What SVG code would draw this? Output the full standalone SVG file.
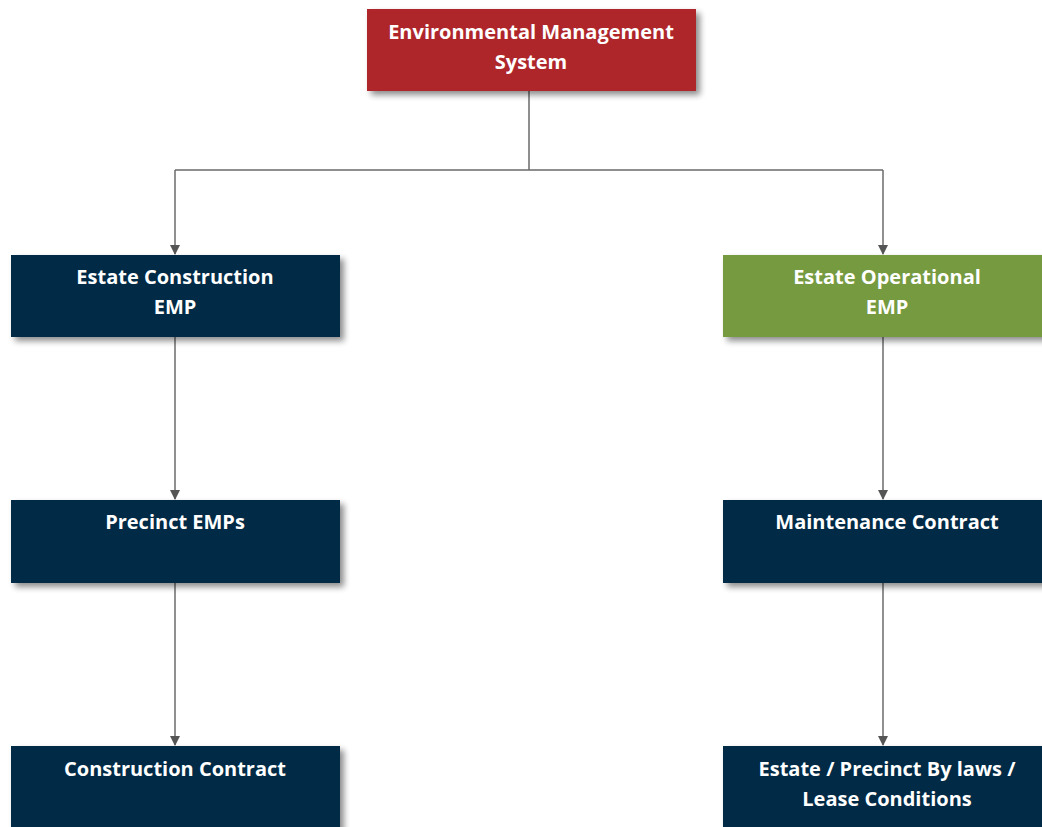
<svg xmlns="http://www.w3.org/2000/svg" width="1042" height="827" viewBox="0 0 1042 827">
<defs>
<filter id="sh" x="-10%" y="-10%" width="130%" height="140%">
<feGaussianBlur in="SourceAlpha" stdDeviation="3"/>
<feOffset dx="4" dy="4" result="b"/>
<feComponentTransfer><feFuncA type="linear" slope="0.45"/></feComponentTransfer>
<feMerge><feMergeNode/><feMergeNode in="SourceGraphic"/></feMerge>
</filter>
<marker id="ah" markerWidth="10" markerHeight="10" refX="9" refY="5" orient="auto" markerUnits="userSpaceOnUse">
<path d="M0,0 L10,5 L0,10 z" fill="#555"/>
</marker>
</defs>
<style>
.red{fill:#AE2529}
.navy{fill:#052A45}
.green{fill:#769A40}
.t{font-family:"Open Sans","Noto Sans",sans-serif;font-weight:bold;font-size:20px;fill:#fff;text-anchor:middle}
.c{stroke:#6b6b6b;stroke-width:1.5;fill:none}
</style>
<rect width="1042" height="827" fill="#fff"/>
<g id="connectors">
<path class="c" d="M529,91 V170 M175,170 H883"/>
<path class="c" d="M175,170 V254" marker-end="url(#ah)"/>
<path class="c" d="M883,170 V254" marker-end="url(#ah)"/>
<path class="c" d="M175,337 V499" marker-end="url(#ah)"/>
<path class="c" d="M883,337 V499" marker-end="url(#ah)"/>
<path class="c" d="M175,583 V745" marker-end="url(#ah)"/>
<path class="c" d="M883,583 V745" marker-end="url(#ah)"/>
</g>
<g id="ems">
<rect class="red" x="367" y="9" width="329" height="82" filter="url(#sh)"/>
<text class="t" x="531" y="39">Environmental Management</text>
<text class="t" x="531" y="69">System</text>
</g>
<g id="estate-construction">
<rect class="navy" x="11" y="255" width="329" height="82" filter="url(#sh)"/>
<text class="t" x="175" y="284">Estate Construction</text>
<text class="t" x="175" y="314">EMP</text>
</g>
<g id="estate-operational">
<rect class="green" x="723" y="255" width="329" height="82" filter="url(#sh)"/>
<text class="t" x="887" y="284">Estate Operational</text>
<text class="t" x="887" y="314">EMP</text>
</g>
<g id="precinct">
<rect class="navy" x="11" y="500" width="329" height="83" filter="url(#sh)"/>
<text class="t" x="175" y="529">Precinct EMPs</text>
</g>
<g id="maintenance">
<rect class="navy" x="723" y="500" width="329" height="83" filter="url(#sh)"/>
<text class="t" x="887" y="529">Maintenance Contract</text>
</g>
<g id="construction-contract">
<rect class="navy" x="11" y="746" width="329" height="90" filter="url(#sh)"/>
<text class="t" x="175" y="776">Construction Contract</text>
</g>
<g id="bylaws">
<rect class="navy" x="723" y="746" width="329" height="90" filter="url(#sh)"/>
<text class="t" x="887" y="776">Estate / Precinct By laws /</text>
<text class="t" x="887" y="806">Lease Conditions</text>
</g>
</svg>
